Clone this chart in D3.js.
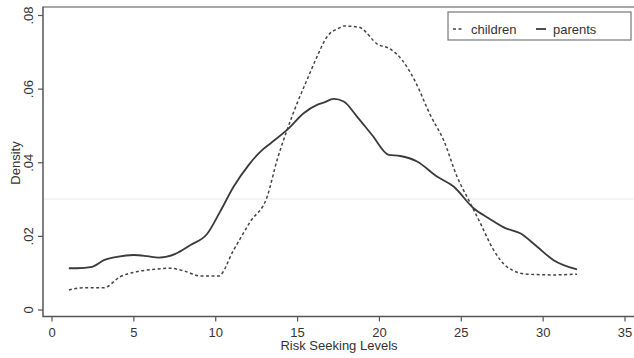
<!DOCTYPE html>
<html>
<head>
<meta charset="utf-8">
<script src="https://cdn.jsdelivr.net/npm/d3@7"></script>
<style>
  body { margin: 0; background: #fff; }
  svg { display: block; font-family: "Liberation Sans", Arial, sans-serif; }
</style>
</head>
<body>
<div id="chart"></div>
<script>
// kernel density readings (risk seeking level, density)
var childLevels = [1.06, 1.97, 3.19, 4.2, 5.23, 6.25, 7.26, 8.08, 9.1, 10.2, 11.13, 12.15, 13.17, 13.78, 14.39, 15.0, 15.6, 16.22, 16.83, 17.54, 17.85, 18.76, 19.98, 20.6, 21.41, 22.22, 23.14, 23.95, 24.77, 25.58, 26.2, 27.0, 27.82, 29.04, 30.67, 32.1];
var childDensity = [0.0053, 0.0059, 0.0059, 0.0089, 0.0103, 0.0109, 0.0112, 0.0105, 0.0091, 0.0091, 0.0162, 0.0239, 0.0306, 0.0406, 0.0488, 0.056, 0.0623, 0.0687, 0.0741, 0.0764, 0.077, 0.0767, 0.0719, 0.071, 0.0678, 0.0619, 0.0528, 0.046, 0.0361, 0.0289, 0.0234, 0.0162, 0.0116, 0.0096, 0.0094, 0.0096];

var parentLevels = [1.06, 1.57, 2.48, 3.2, 4.0, 5.03, 5.84, 6.55, 7.57, 8.49, 9.5, 10.3, 11.13, 12.05, 12.86, 13.37, 14.49, 15.4, 16.22, 16.62, 17.24, 17.85, 18.66, 19.58, 20.6, 21.3, 22.33, 23.55, 24.56, 25.78, 26.7, 27.72, 28.63, 29.65, 30.67, 32.1];
var parentDensity = [0.0112, 0.0112, 0.0116, 0.0134, 0.0143, 0.0148, 0.0145, 0.0141, 0.0151, 0.0175, 0.0205, 0.0266, 0.0334, 0.0393, 0.0433, 0.0451, 0.0492, 0.0533, 0.0556, 0.0562, 0.0572, 0.0565, 0.0524, 0.0474, 0.042, 0.0417, 0.0402, 0.0361, 0.0334, 0.0275, 0.0248, 0.0221, 0.0207, 0.0171, 0.0134, 0.0109];

var xTicks = [0, 5, 10, 15, 20, 25, 30, 35];
var yTicks = [0, 0.02, 0.04, 0.06, 0.08];
var yTickLabels = ["0", ".02", ".04", ".06", ".08"];

var width = 634, height = 358;

var svg = d3.select("#chart").append("svg")
  .attr("width", width)
  .attr("height", height);

var x = d3.scaleLinear().domain([0, 35]).range([51.5, 624.5]);
var y = d3.scaleLinear().domain([0, 0.08]).range([309.5, 15]);

var axisColor = "#555";

// faint scan line
svg.append("line")
  .attr("x1", 44).attr("x2", width)
  .attr("y1", y(0.03)).attr("y2", y(0.03))
  .attr("stroke", "#f0f0f0").attr("stroke-width", 1.5);

// frame
svg.append("line")
  .attr("x1", 43).attr("x2", width).attr("y1", 7).attr("y2", 7)
  .attr("stroke", "#888").attr("stroke-width", 1.5);
svg.append("line")
  .attr("x1", 43).attr("x2", 43).attr("y1", 6.5).attr("y2", 316.5)
  .attr("stroke", axisColor).attr("stroke-width", 1.5);
svg.append("line")
  .attr("x1", 42.5).attr("x2", width).attr("y1", 316.5).attr("y2", 316.5)
  .attr("stroke", axisColor).attr("stroke-width", 1.5);

var xAxis = svg.append("g")
  .attr("transform", "translate(0,316.5)")
  .call(d3.axisBottom(x).tickValues(xTicks).tickSize(5).tickPadding(5).tickFormat(d3.format("d")));
xAxis.select(".domain").remove();
xAxis.selectAll("line").attr("stroke", axisColor).attr("stroke-width", 1.2);
xAxis.selectAll("text").attr("fill", "#333").style("font-size", "13px").attr("dy", "0.8em");

var yAxis = svg.append("g")
  .attr("transform", "translate(43,0)")
  .call(d3.axisLeft(y).tickValues(yTicks).tickSize(5).tickFormat(function(d, i) { return yTickLabels[i]; }));
yAxis.select(".domain").remove();
yAxis.selectAll("line").attr("stroke", axisColor).attr("stroke-width", 1.2);
yAxis.selectAll("text")
  .attr("fill", "#333")
  .style("font-size", "13px")
  .attr("text-anchor", "middle")
  .attr("x", null).attr("dy", null)
  .attr("transform", "translate(-10,0) rotate(-90)")
  .attr("y", 0);

// axis titles
svg.append("text")
  .attr("x", 339).attr("y", 350)
  .attr("text-anchor", "middle")
  .attr("fill", "#333")
  .style("font-size", "13px")
  .text("Risk Seeking Levels");

svg.append("text")
  .attr("transform", "translate(20,163) rotate(-90)")
  .attr("text-anchor", "middle")
  .attr("fill", "#333")
  .style("font-size", "13px")
  .text("Density");

// curves
var line = d3.line()
  .x(function(d) { return x(d[0]); })
  .y(function(d) { return y(d[1]); })
  .curve(d3.curveMonotoneX);

var childData = d3.zip(childLevels, childDensity);
var parentData = d3.zip(parentLevels, parentDensity);

svg.append("path")
  .datum(childData)
  .attr("d", line)
  .attr("fill", "none")
  .attr("stroke", "#444")
  .attr("stroke-width", 1.5)
  .attr("stroke-dasharray", "3,2.5");

svg.append("path")
  .datum(parentData)
  .attr("d", line)
  .attr("fill", "none")
  .attr("stroke", "#3a3a3a")
  .attr("stroke-width", 1.8);

// legend
var legend = svg.append("g");
legend.append("rect")
  .attr("x", 448).attr("y", 12)
  .attr("width", 183).attr("height", 28)
  .attr("fill", "#fff")
  .attr("stroke", "#777").attr("stroke-width", 1.2);
legend.append("line")
  .attr("x1", 453).attr("x2", 463).attr("y1", 29).attr("y2", 29)
  .attr("stroke", "#444").attr("stroke-width", 1.5).attr("stroke-dasharray", "3,2.5");
legend.append("text")
  .attr("x", 471).attr("y", 33.5)
  .attr("fill", "#333").style("font-size", "13px")
  .text("children");
legend.append("line")
  .attr("x1", 536).attr("x2", 546).attr("y1", 29).attr("y2", 29)
  .attr("stroke", "#3a3a3a").attr("stroke-width", 1.8);
legend.append("text")
  .attr("x", 553).attr("y", 33.5)
  .attr("fill", "#333").style("font-size", "13px")
  .text("parents");
</script>
</body>
</html>
